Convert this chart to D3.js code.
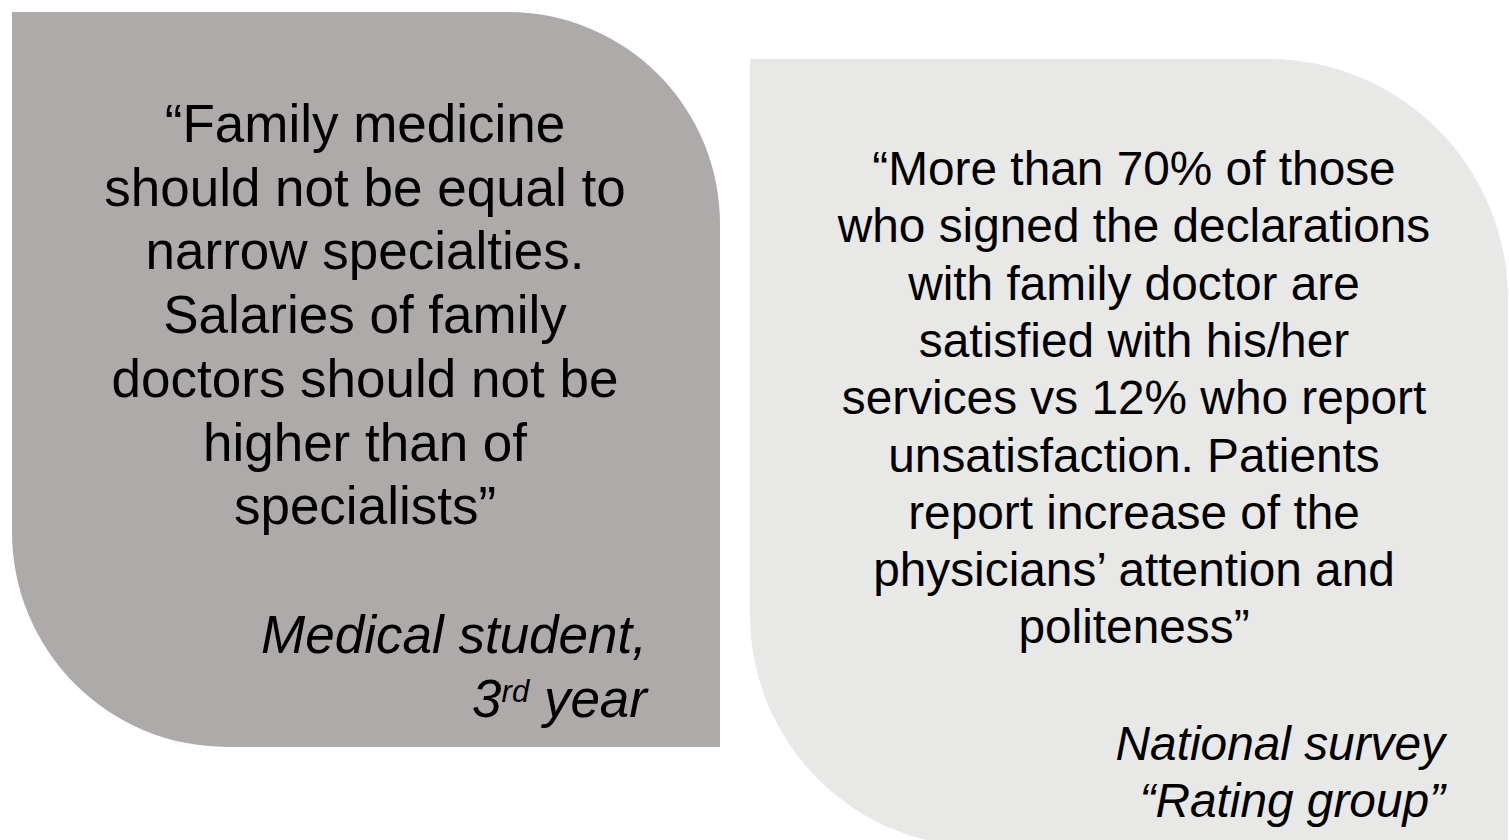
<!DOCTYPE html>
<html>
<head>
<meta charset="utf-8">
<script src="https://d3js.org/d3.v7.min.js"></script>
<style>
  body { margin: 0; background: #fff; }
  svg { display: block; }
  text { font-family: "Liberation Sans", Arial, sans-serif; fill: #000; }
</style>
</head>
<body>
<svg width="1509" height="840"></svg>
<script>
var svg = d3.select("svg"),
  width = +svg.attr("width"),
  height = +svg.attr("height");

// quote texts, one entry per line
var leftQuote = [
  "\u201cFamily medicine",
  "should not be equal to",
  "narrow specialties.",
  "Salaries of family",
  "doctors should not be",
  "higher than of",
  "specialists\u201d"
];
var leftSource = ["Medical student,", "3|rd| year"];

var rightQuote = [
  "\u201cMore than 70% of those",
  "who signed the declarations",
  "with family doctor are",
  "satisfied with his/her",
  "services vs 12% who report",
  "unsatisfaction. Patients",
  "report increase of the",
  "physicians\u2019 attention and",
  "politeness\u201d"
];
var rightSource = ["National survey", "\u201cRating group\u201d"];

// panel boxes
var panels = [
  { x0: 12, y0: 12, x1: 720, y1: 747, rTop: 212, rBot: 215, fill: "#aeaaaa",
    cx: 365, first: 142, step: 63.7, size: 53,
    srcX: 647, srcFirst: 653, quote: leftQuote, source: leftSource },
  { x0: 750, y0: 59, x1: 1508, y1: 847, rTop: 240, rBot: 232, fill: "#e8e8e7",
    cx: 1134, first: 185, step: 57.3, size: 47.8,
    srcX: 1445, srcFirst: 760, quote: rightQuote, source: rightSource }
];

function shape(p) {
  var path = d3.path();
  path.moveTo(p.x0, p.y0);
  path.lineTo(p.x1 - p.rTop, p.y0);
  path.arcTo(p.x1, p.y0, p.x1, p.y0 + p.rTop, p.rTop);
  path.lineTo(p.x1, p.y1);
  path.lineTo(p.x0 + p.rBot, p.y1);
  path.arcTo(p.x0, p.y1, p.x0, p.y1 - p.rBot, p.rBot);
  path.closePath();
  return path.toString();
}

panels.forEach(function(p) {
  var g = svg.append("g");

  g.append("path")
    .attr("d", shape(p))
    .attr("fill", p.fill);

  var y = d3.scaleLinear()
    .domain([0, 1])
    .range([p.first, p.first + p.step]);

  g.selectAll("text.quote")
    .data(p.quote)
    .enter().append("text")
    .attr("class", "quote")
    .attr("x", p.cx)
    .attr("y", function(d, i) { return y(i); })
    .attr("text-anchor", "middle")
    .style("font-size", p.size + "px")
    .text(function(d) { return d; });

  var ys = d3.scaleLinear()
    .domain([0, 1])
    .range([p.srcFirst, p.srcFirst + p.step]);

  g.selectAll("text.source")
    .data(p.source)
    .enter().append("text")
    .attr("class", "source")
    .attr("x", p.srcX)
    .attr("y", function(d, i) { return ys(i); })
    .attr("text-anchor", "end")
    .style("font-size", p.size + "px")
    .style("font-style", "italic")
    .each(function(d) {
      var parts = d.split("|");
      var t = d3.select(this);
      if (parts.length == 1) {
        t.text(d);
        return;
      }
      // superscript ordinal
      t.append("tspan").text(parts[0]);
      t.append("tspan")
        .attr("dy", -15)
        .style("font-size", "31px")
        .text(parts[1]);
      t.append("tspan")
        .attr("dy", 15)
        .text(parts[2]);
    });
});
</script>
</body>
</html>
